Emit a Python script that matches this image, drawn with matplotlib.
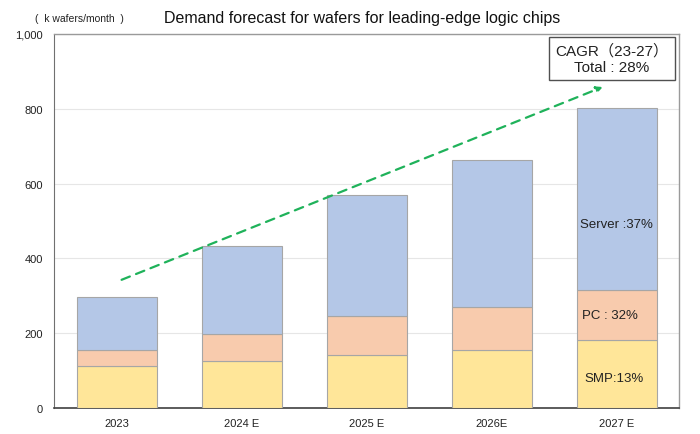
import matplotlib
matplotlib.use("Agg")
import matplotlib.pyplot as plt
import numpy as np

categories = ["2023", "2024 E", "2025 E", "2026E", "2027 E"]
smp = [112, 125, 143, 154, 183]
pc = [44, 73, 104, 117, 133]
server = [140, 235, 323, 392, 486]
arrow_start = (0.02, 340)
arrow_end = (3.91, 861)
yticks = [0, 200, 400, 600, 800, 1000]
ytick_labels = ["0", "200", "400", "600", "800", "1,000"]

plt.rcParams['font.family'] = ['Liberation Sans', 'Noto Sans CJK JP', 'DejaVu Sans']

fig = plt.figure(figsize=(7, 4.35), dpi=100)
ax = fig.add_axes([54/700, 1-409/435, (679-54)/700, (409-35)/435])

x = np.arange(len(categories))
w = 0.64
ec = '#a6a6a6'
ax.bar(x, smp, w, color='#ffe699', edgecolor=ec, linewidth=0.8, zorder=3)
ax.bar(x, pc, w, bottom=smp, color='#f8cbad', edgecolor=ec, linewidth=0.8, zorder=3)
bottom2 = np.array(smp) + np.array(pc)
ax.bar(x, server, w, bottom=bottom2, color='#b4c7e7', edgecolor=ec, linewidth=0.8, zorder=3)

ax.set_xlim(-0.5, 4.5)
ax.set_ylim(0, 1000)
ax.set_yticks(yticks)
ax.set_yticklabels(ytick_labels)
ax.set_xticks(x)
ax.set_xticklabels(categories)
ax.tick_params(axis='both', length=0, labelsize=8, colors='#222222')
ax.tick_params(axis='x', pad=7)
ax.tick_params(axis='y', pad=8)
ax.grid(axis='y', color='#e6e6e6', linewidth=0.8, zorder=0)
for s in ['top', 'right']:
    ax.spines[s].set_color('#9a9a9a')
    ax.spines[s].set_linewidth(1.0)
ax.spines['left'].set_color('#707070')
ax.spines['bottom'].set_color('#404040')
ax.spines['bottom'].set_linewidth(1.2)

ax.annotate('', xy=arrow_end, xytext=arrow_start,
            arrowprops=dict(arrowstyle='-|>', color='#1fb25a', lw=1.6,
                            linestyle=(0, (4, 3)), mutation_scale=9),
            zorder=5)

ax.text(4, 492, "Server :37%", ha='center', va='center', fontsize=9.5, color='#222222', zorder=6)
ax.text(3.95, 248, "PC : 32%", ha='center', va='center', fontsize=9.5, color='#222222', zorder=6)
ax.text(3.98, 81, "SMP:13%", ha='center', va='center', fontsize=9.5, color='#222222', zorder=6)

fig.text(612/700, 1-59.5/435, "CAGR（23-27）\nTotal : 28%", ha='center', va='center',
         fontsize=11, color='#222222', linespacing=1.15,
         bbox=dict(boxstyle='square,pad=0.4', facecolor='white', edgecolor='#505050', linewidth=1.0))

fig.text(362/700, 1-18/435, "Demand forecast for wafers for leading-edge logic chips",
         ha='center', va='center', fontsize=11.5, color='#111111')
fig.text(79/700, 1-19/435, "(  k wafers/month  )", ha='center', va='center', fontsize=7.5, color='#222222')

fig.savefig("out.png", dpi=100)
